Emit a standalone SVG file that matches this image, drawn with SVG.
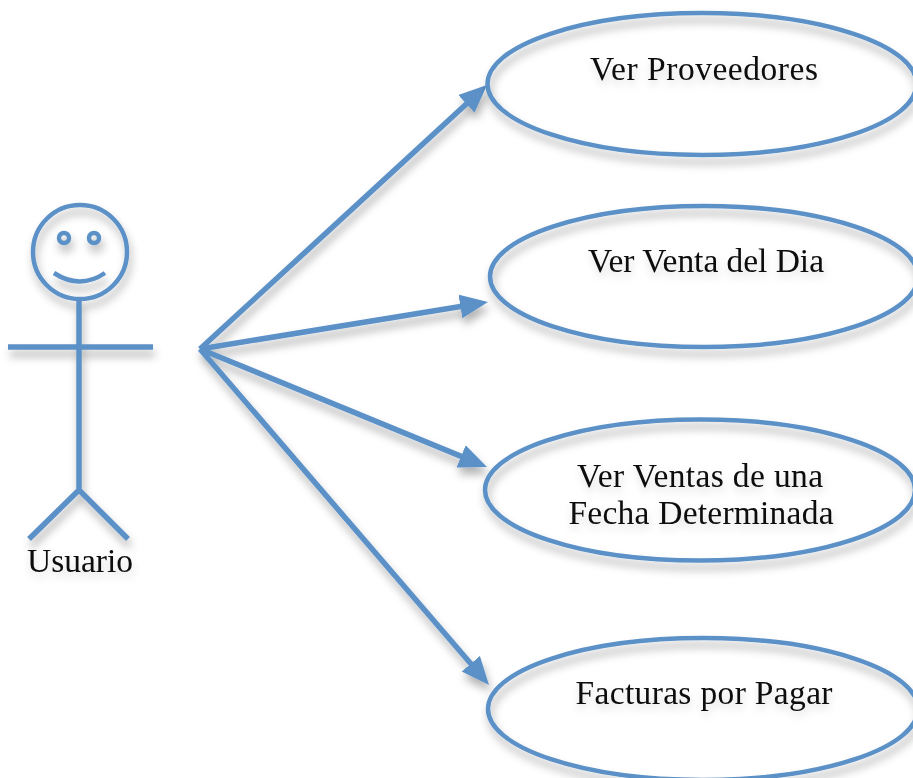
<svg xmlns="http://www.w3.org/2000/svg" width="913" height="778" viewBox="0 0 913 778">
<style>
.s{fill:none;stroke:#5b91c8;stroke-width:4.5}
.b{fill:none;stroke:#5b91c8;stroke-width:5.5}
.e{fill:none;stroke:#5b91c8;stroke-width:4.5}
.c{fill:none;stroke:#5b91c8;stroke-width:5.5}
.t{font-family:"Liberation Serif","Times New Roman",serif;font-size:33.5px;fill:#0a0a0a;text-anchor:middle;filter:url(#ts)}
</style>
<defs>
<filter id="sh" x="-20%" y="-20%" width="140%" height="150%"><feDropShadow dx="2" dy="7" stdDeviation="4" flood-color="#000" flood-opacity=".3"/></filter>
<filter id="ts" x="-10%" y="-30%" width="120%" height="170%"><feDropShadow dx="1" dy="5" stdDeviation="4" flood-color="#000" flood-opacity=".15"/></filter>
<marker id="a" markerUnits="userSpaceOnUse" markerWidth="32" markerHeight="26" refX="8" refY="12" orient="auto"><path d="M0 0L28 12L0 24Z" fill="#5b91c8"/></marker>
</defs>
<g id="connectors" filter="url(#sh)">
<line class="c" x1="200" y1="349" x2="472.3" y2="98.5" marker-end="url(#a)"/>
<line class="c" x1="200" y1="349" x2="468.3" y2="305.2" marker-end="url(#a)"/>
<line class="c" x1="200" y1="349" x2="468.5" y2="459.4" marker-end="url(#a)"/>
<line class="c" x1="200" y1="349" x2="476" y2="669.8" marker-end="url(#a)"/>
</g>
<g id="actor">
<g filter="url(#sh)">
<circle class="s" cx="80" cy="252" r="47"/>
<circle class="s" cx="64" cy="238" r="5"/>
<circle class="s" cx="94" cy="238" r="5"/>
<path class="s" d="M54 273Q80 290 105 273"/>
<path class="b" d="M79 299V490M8 347H153M79 490L29 539M79 490L128 539"/>
</g>
<text class="t" x="80" y="572" textLength="106">Usuario</text>
</g>
<g id="node1">
<ellipse class="e" cx="702" cy="84" rx="214.5" ry="71" filter="url(#sh)"/>
<text class="t" x="704" y="80" textLength="228">Ver Proveedores</text>
</g>
<g id="node2">
<ellipse class="e" cx="704" cy="276.5" rx="214" ry="70.5" filter="url(#sh)"/>
<text class="t" x="706" y="272" textLength="236">Ver Venta del Dia</text>
</g>
<g id="node3">
<ellipse class="e" cx="700" cy="490" rx="215" ry="70.5" filter="url(#sh)"/>
<text class="t" x="700" y="487" textLength="246">Ver Ventas de una</text>
<text class="t" x="701" y="524" textLength="265">Fecha Determinada</text>
</g>
<g id="node4">
<ellipse class="e" cx="703" cy="709" rx="215" ry="71" filter="url(#sh)"/>
<text class="t" x="704" y="704" textLength="257">Facturas por Pagar</text>
</g>
</svg>
